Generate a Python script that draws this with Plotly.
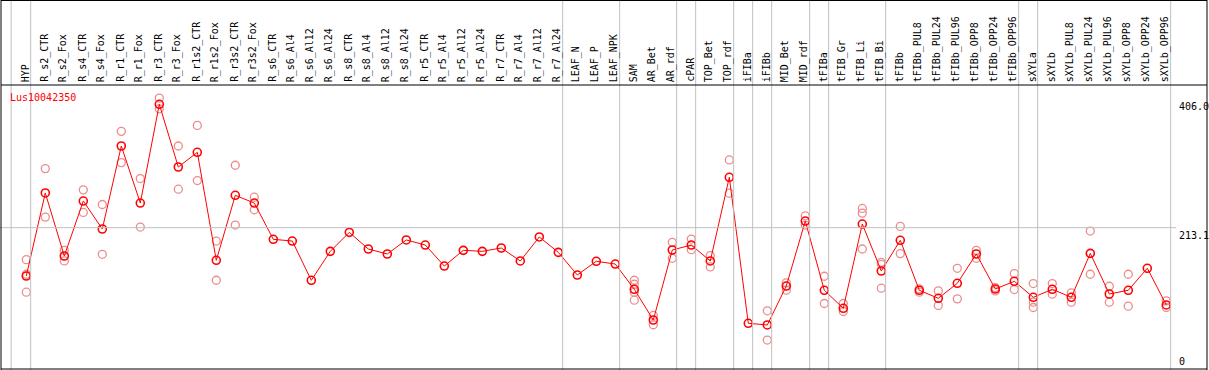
import plotly.graph_objects as go

W, H = 1209, 370

categories = [
    "HYP", "R_s2_CTR", "R_s2_Fox", "R_s4_CTR", "R_s4_Fox", "R_r1_CTR", "R_r1_Fox",
    "R_r3_CTR", "R_r3_Fox", "R_r1s2_CTR", "R_r1s2_Fox", "R_r3s2_CTR", "R_r3s2_Fox",
    "R_s6_CTR", "R_s6_Al4", "R_s6_Al12", "R_s6_Al24", "R_s8_CTR", "R_s8_Al4",
    "R_s8_Al12", "R_s8_Al24", "R_r5_CTR", "R_r5_Al4", "R_r5_Al12", "R_r5_Al24",
    "R_r7_CTR", "R_r7_Al4", "R_r7_Al12", "R_r7_Al24", "LEAF_N", "LEAF_P", "LEAF_NPK",
    "SAM", "AR_Bet", "AR_rdf", "cPAR", "TOP_Bet", "TOP_rdf", "iFIBa", "iFIBb",
    "MID_Bet", "MID_rdf", "tFIBa", "tFIB_Gr", "tFIB_Li", "tFIB_Bi", "tFIBb",
    "tFIBb_PUL8", "tFIBb_PUL24", "tFIBb_PUL96", "tFIBb_OPP8", "tFIBb_OPP24",
    "tFIBb_OPP96", "sXYLa", "sXYLb", "sXYLb_PUL8", "sXYLb_PUL24", "sXYLb_PUL96",
    "sXYLb_OPP8", "sXYLb_OPP24", "sXYLb_OPP96",
]

means = [
    140.4, 265.3, 170.5, 253.2, 211.1, 336.0, 250.2, 398.7, 304.4, 326.5, 164.0,
    261.8, 250.2, 195.6, 193.0, 133.9, 177.5, 206.1, 181.0, 173.5, 194.6, 187.0,
    155.4, 179.0, 177.5, 182.5, 163.0, 199.1, 176.0, 141.9, 162.5, 158.4,
    120.4, 74.2, 179.5, 187.0, 163.0, 288.9, 69.2, 66.7, 125.3, 223.1, 118.9,
    91.8, 218.6, 147.9, 194.1, 118.9, 106.8, 129.4, 173.5, 120.8, 132.4,
    108.3, 120.4, 108.3, 174.5, 113.3, 118.9, 152.0, 96.8,
]

replicates = [
    [165, 143, 116], [302, 229], [179, 163], [270, 236], [248, 173], [358, 311],
    [287, 214], [408, 392], [336, 271], [367, 284], [193, 134], [307, 217], [259, 240],
    [], [], [], [], [], [], [], [], [], [], [], [], [], [], [], [], [], [], [],
    [134, 128, 116, 104], [81, 67], [191, 167], [196, 180], [171, 154], [315, 265],
    [], [88, 44], [130, 119], [231, 217], [140, 99], [99, 87], [242, 235, 181],
    [161, 158, 122], [215, 174], [121, 116], [118, 96], [152, 106], [179, 167],
    [123, 118], [144, 120], [129, 101, 93], [129, 113], [115, 101], [208, 143],
    [125, 101], [143, 95], [], [103, 93],
]

groups = [
    ["HYP"],
    categories[1:29],
    ["LEAF_N", "LEAF_P", "LEAF_NPK"],
    ["SAM", "AR_Bet", "AR_rdf"],
    ["cPAR"],
    ["TOP_Bet", "TOP_rdf"],
    ["iFIBa"],
    ["iFIBb"],
    ["MID_Bet", "MID_rdf"],
    ["tFIBa"],
    ["tFIB_Gr", "tFIB_Li", "tFIB_Bi"],
    categories[46:53],
    ["sXYLa"],
    categories[54:61],
]

gene_name = "Lus10042350"
y_max_label, y_mid_label = 406.0, 213.1

# pixel geometry -> axis ranges
px_per_cat = 19.0
x0_px = 26.3
xr = [-x0_px / px_per_cat, (W - x0_px) / px_per_cat]
px_per_unit = 0.6646
zero_px = 369.3
yr = [-(H - zero_px) / px_per_unit, zero_px / px_per_unit]

idx = {c: i for i, c in enumerate(categories)}

fig = go.Figure()

rx, ry = [], []
for i, reps in enumerate(replicates):
    for v in reps:
        rx.append(i)
        ry.append(v)
fig.add_trace(go.Scatter(
    x=rx, y=ry, mode="markers",
    marker=dict(symbol="circle-open", size=8, color="#ec8c8c", line=dict(width=1.3)),
    hoverinfo="skip", showlegend=False,
))
fig.add_trace(go.Scatter(
    x=list(range(len(categories))), y=means, mode="lines+markers",
    line=dict(color="#ff0000", width=1),
    marker=dict(symbol="circle-open", size=8, color="#ff0000", line=dict(width=1.6)),
    showlegend=False,
))

shapes = []
grey = "#c0c0c0"
# group separator lines
sep_positions = [idx[groups[0][0]] - 0.8] + [idx[g[-1]] + 0.23 for g in groups]
for xs in sep_positions:
    shapes.append(dict(type="line", xref="x", yref="paper", x0=xs, x1=xs, y0=0, y1=1,
                       line=dict(color=grey, width=1)))
# mid gridline
shapes.append(dict(type="line", xref="paper", yref="y", x0=0, x1=1176 / W,
                   y0=y_mid_label, y1=y_mid_label, line=dict(color=grey, width=1)))
# borders
def px_x(p):
    return p / W
def px_y(p):
    return 1 - p / H
black = "#000000"
for (xa, ya, xb, yb) in [(1, 0.5, 1207, 0.5), (1, 85, 1207, 85), (1, 369, 1207, 369)]:
    shapes.append(dict(type="line", xref="paper", yref="paper", x0=px_x(xa), x1=px_x(xb),
                       y0=px_y(ya), y1=px_y(yb), line=dict(color=black, width=1)))
for xa in [1, 1207]:
    shapes.append(dict(type="line", xref="paper", yref="paper", x0=px_x(xa), x1=px_x(xa),
                       y0=0, y1=1, line=dict(color=black, width=1)))

font = "DejaVu Sans Mono"
annotations = []
for i, c in enumerate(categories):
    annotations.append(dict(
        x=i - 0.05, y=px_y(84), xref="x", yref="paper", text=c, textangle=-90,
        showarrow=False, xanchor="center", yanchor="bottom",
        font=dict(family=font, size=10, color="#000000"),
    ))
annotations.append(dict(x=px_x(8), y=px_y(97), xref="paper", yref="paper", text=gene_name,
                        showarrow=False, xanchor="left", yanchor="middle",
                        font=dict(family=font, size=10, color="#ff0000")))
annotations.append(dict(x=px_x(1177), y=y_max_label, xref="paper", yref="y",
                        text=f"{y_max_label:.1f}", showarrow=False, xanchor="left",
                        yanchor="top", font=dict(family=font, size=10, color="#000000")))
annotations.append(dict(x=px_x(1177), y=y_mid_label, xref="paper", yref="y",
                        text=f"{y_mid_label:.1f}", showarrow=False, xanchor="left",
                        yanchor="top", font=dict(family=font, size=10, color="#000000")))
annotations.append(dict(x=px_x(1177), y=0, xref="paper", yref="y",
                        text="0", showarrow=False, xanchor="left",
                        yanchor="bottom", font=dict(family=font, size=10, color="#000000")))

fig.update_layout(
    width=W, height=H, autosize=False,
    margin=dict(l=0, r=0, t=0, b=0, pad=0),
    paper_bgcolor="white", plot_bgcolor="white",
    xaxis=dict(range=xr, visible=False, fixedrange=True),
    yaxis=dict(range=yr, visible=False, fixedrange=True),
    shapes=shapes, annotations=annotations,
    showlegend=False,
)

fig.write_html(
    "out.html",
    config={"displayModeBar": False},
    post_script="document.body.style.margin='0';document.body.style.overflow='hidden';",
)
